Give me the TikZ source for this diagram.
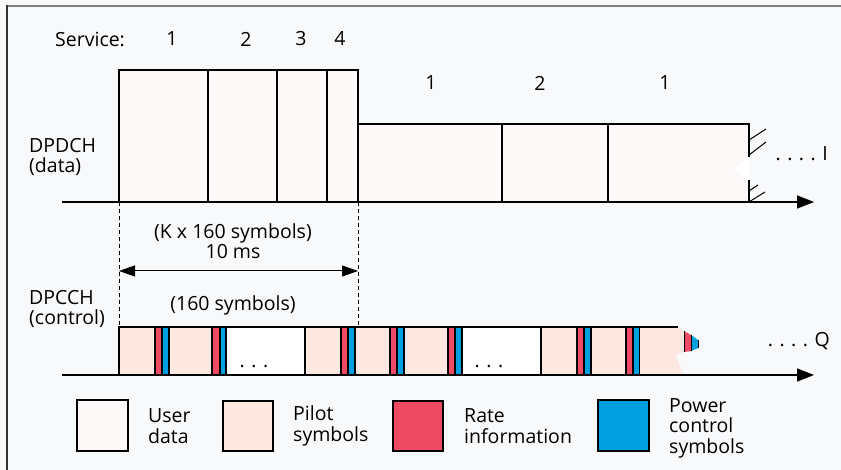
\documentclass[tikz,border=0pt]{standalone}
\usepackage{fontspec}
\setmainfont{Open Sans}
\usetikzlibrary{arrows.meta}
\definecolor{bg}{HTML}{F8F9FB}
\definecolor{userdata}{HTML}{FDF9F8}
\definecolor{pilot}{HTML}{FCE8E1}
\definecolor{rate}{HTML}{EE4A63}
\definecolor{power}{HTML}{009FDF}
\tikzset{
  lbl/.style={font=\fontsize{19.5}{20.5}\selectfont,inner sep=0pt},
  frame/.style={line width=1.1pt},
  axis/.style={line width=1.6pt,-{Triangle[length=17pt,width=13pt]}},
  dim/.style={line width=1pt,{Triangle[length=16pt,width=11pt]}-{Triangle[length=16pt,width=11pt]}},
  guide/.style={line width=.9pt,dash pattern=on 4pt off 3pt},
}
\begin{document}
\begin{tikzpicture}[x=1pt,y=-1pt,line join=miter]
	\useasboundingbox (0,0) rectangle (841,470);
	\fill[bg] (0,0) rectangle (841,470);
	\draw[gray,line width=2pt] (6,6)--(841,6);
	\draw[black!80,line width=2pt] (7,5)--(7,470);
	% DPDCH
	\foreach \a/\b in {119/208,208/277,277/327,327/358}
		\draw[frame,fill=userdata] (\a,70) rectangle (\b,202);
	\foreach \a/\b in {358/502,502/608}
		\draw[frame,fill=userdata] (\a,124) rectangle (\b,202);
	\fill[userdata] (608,124) rectangle (749,202);
	\fill[white] (749,157)--(734,169)--(749,181)--cycle;
	\draw[frame] (608,202)--(608,124)--(749,124)--(749,157) (749,180)--(749,202);
	\draw[line width=1pt] (749,140)--(766,129) (749,155)--(766,142) (749,191)--(758,185) (749,202)--(765,192);
	\coordinate (I0) at (62,202);
	\coordinate (I1) at (814,202);
	\draw[axis] (I0)--(I1);
	% DPCCH
	\foreach \a/\b/\c in {119/155/pilot,155/162/rate,162/169/power,169/212/pilot,212/220/rate,220/226/power,226/305/white,
		305/341/pilot,341/348/rate,348/355/power,355/390/pilot,390/397/rate,397/404/power,404/448/pilot,448/455/rate,455/462/power,
		462/541/white,541/577/pilot,577/584/rate,584/591/power,591/626/pilot,626/633/rate,633/640/power}
		\draw[frame,fill=\c] (\a,327) rectangle (\b,375);
	\fill[pilot] (640,327)--(678,327)--(684,331)--(684,352)--(676,355)--(683,375)--(640,375)--cycle;
	\draw[frame] (640,327)--(678,327);
	\fill[rate] (684,331)--(691,335)--(691,351)--(684,352)--cycle;
	\fill[power] (691,335)--(698,340)--(698,348)--(691,351)--cycle;
	\draw[line width=1pt] (684,331)--(684,352) (691,335)--(691,351) (698,340)--(698,348);
	\coordinate (Q0) at (62,375);
	\coordinate (Q1) at (814,375);
	\draw[axis] (Q0)--(Q1);
	% 10 ms frame
	\coordinate (L0) at (119,202);
	\coordinate (L1) at (119,327);
	\coordinate (R0) at (358,202);
	\coordinate (R1) at (358,327);
	\draw[guide] (L0)--(L1) (R0)--(R1);
	\coordinate (A0) at (119,271);
	\coordinate (A1) at (358,271);
	\draw[dim] (A0)--(A1);
	% labels
	\node[lbl,anchor=west] (service) at (55,39) {Service:};
	\foreach \x/\t [count=\i] in {172/1,246/2,301/3,340/4,431/1,540/2,665/1}
		\node[lbl] (s\i) at (\x,\ifnum\i<5 39\else 83\fi) {\t};
	\node[lbl,anchor=west,align=left] (dpdch) at (29,157) {DPDCH\\(data)};
	\node[lbl,anchor=west,align=left] (dpcch) at (29,309) {DPCCH\\(control)};
	\node[lbl,align=center] (ksym) at (233,241) {(K x 160 symbols)\\10 ms};
	\node[lbl] (sym) at (233,305) {(160 symbols)};
	\node[lbl,anchor=east] (Ich) at (828,154) {.\,\,.\,\,.\,\,.\,\,I};
	\node[lbl,anchor=east] (Qch) at (830,341) {.\,\,.\,\,.\,\,.\,\,Q};
	\node[lbl] (dots1) at (254,366) {.\,\,.\,\,.};
	\node[lbl] (dots2) at (489,366) {.\,\,.\,\,.};
	% legend
	\draw[frame,fill=userdata] (77,400) rectangle (128,451);
	\draw[frame,fill=pilot] (223,401) rectangle (273,451);
	\draw[frame,fill=rate] (393,401) rectangle (443,451);
	\draw[frame,fill=power] (598,400) rectangle (649,451);
	\node[lbl,anchor=west,align=left] (kuser) at (148,426) {User\\data};
	\node[lbl,anchor=west,align=left] (kpilot) at (293,426) {Pilot\\symbols};
	\node[lbl,anchor=west,align=left] (krate) at (464,426) {Rate\\information};
	\node[lbl,anchor=west,align=left] (kpower) at (669,428) {Power\\control\\symbols};
\end{tikzpicture}
\end{document}
